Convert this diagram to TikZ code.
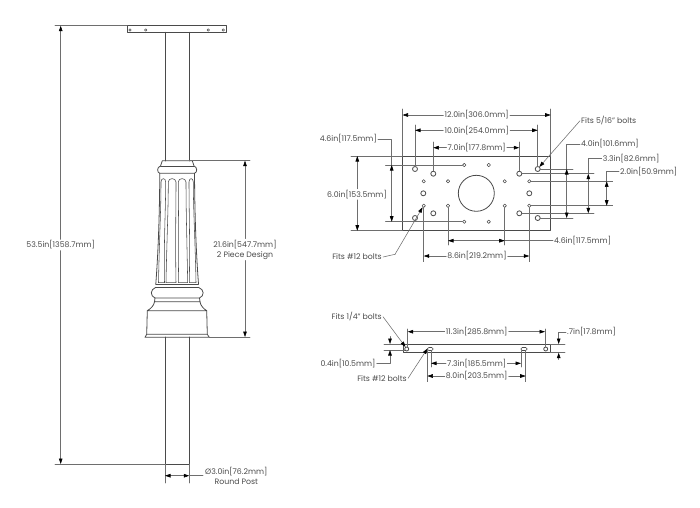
\documentclass[tikz,border=0pt]{standalone}
\usepackage{fontspec}
\setmainfont{Poppins}
\usetikzlibrary{arrows.meta}
\definecolor{inkgray}{HTML}{4A4A4A}
\definecolor{dimgray}{HTML}{6E6E6E}
\tikzset{
	part/.style={draw=inkgray,line width=0.8pt},
	thinpart/.style={draw=inkgray,line width=0.55pt},
	extline/.style={draw=dimgray,line width=0.55pt},
	dimline/.style={draw=dimgray,line width=0.55pt,-{Stealth[length=5.5pt,width=3.6pt,inset=0pt,black]}},
	dimtext/.style={font=\fontsize{7.8}{10}\selectfont,text=inkgray,inner sep=1pt,align=center},
}
\begin{document}
\begin{tikzpicture}[x=1pt,y=-1pt,line join=round,line cap=round]
	\useasboundingbox (0,0) rectangle (700,507);
	% post and top plate
	\draw[part] (127.3,25.7) rectangle (226.7,32.3);
	\foreach \x in {130,145.7,208.3,223.3}
	\draw[thinpart] (\x,30) circle (1.3);
	\draw[part] (165,32.3)--(165,161) (189.3,32.3)--(189.3,161);
	\draw[part] (165,337)--(165,464)--(189.3,464)--(189.3,337);
	% collar
	\draw[part] (162.3,160.7)--(192.3,160.7)--(194,166) .. controls (197.5,167) and (197.5,172.5) .. (194.5,173.3)
		--(159.8,173.3) .. controls (156.8,172.5) and (156.8,167) .. (160.5,166)--cycle;
	\draw[thinpart] (160.5,166)--(194,166);
	\draw[part] (159.8,173.3) .. controls (159.5,220) and (158,255) .. (155.8,284);
	\draw[part] (194.5,173.3) .. controls (194.8,220) and (196.3,255) .. (198.5,284);
	% flutes
	\foreach \a/\b/\c/\d in {161/165.7/158.5/164.5,168.3/176/166/176,178.3/186/178.3/187.7,189/193.3/189.3/196}
	\draw[thinpart] (\c,282.7) .. controls (\c+0.8,240) and (\a,210) .. (\a,182) .. controls (\a,177.5) and (\b,177.5) .. (\b,182)
		.. controls (\b,210) and (\d-0.8,240) .. (\d,282.7)--cycle;
	% band and base
	\draw[part] (155.8,284)--(198.5,284) (155.8,287.3)--(198.5,287.3);
	\draw[part] (155.8,287.3) .. controls (150,289.5) and (150,296) .. (155,298)--(199.5,298) .. controls (204.5,296) and (204.5,289.5) .. (198.5,287.3);
	\draw[part] (155,298)--(154.5,301.7)--(200,301.7)--(199.5,298);
	\draw[part] (154.5,301.7) .. controls (154,305.5) and (151,308.5) .. (147.3,310.7)--(206.7,310.7)
		.. controls (203.3,308.5) and (200.5,305.5) .. (200,301.7);
	\draw[part] (147.3,310.7)--(146.7,334.3) (206.7,310.7)--(207.3,334.3);
	\draw[part] (146.7,334.3)--(207.3,334.3)--(209.3,337.3)--(145,337.3)--cycle;
	% column dimensions
	\coordinate (coltop) at (60.7,25.7);
	\coordinate (colbot) at (60.7,464);
	\coordinate (collartop) at (245,160.7);
	\coordinate (collarbot) at (245,337);
	\coordinate (postl) at (165,475.7);
	\coordinate (postr) at (189.3,475.7);
	\coordinate (postmid) at (177,475.7);
	\draw[extline] (55,25.7)--(127.3,25.7) (55,464)--(165,464);
	\draw[extline] (189.3,160.7)--(250,160.7) (209.3,337)--(250,337);
	\draw[extline] (165,464)--(165,483) (189.3,464)--(189.3,483);
	\node[dimtext] (colheight) at (60.7,245) {53.5in[1358.7mm]};
	\draw[dimline] (colheight.north)--(coltop);
	\draw[dimline] (colheight.south)--(colbot);
	\node[dimtext] (collarheight) at (245,249.5) {21.6in[547.7mm]\\2 Piece Design};
	\draw[dimline] (collarheight.north)--(collartop);
	\draw[dimline] (collarheight.south)--(collarbot);
	\node[dimtext,anchor=north west] (postdia) at (204,466) {Ø3.0in[76.2mm]\\Round Post};
	\draw[dimline] (postmid)--(postl);
	\draw[dimline] (postmid)--(postr);
	\draw[extline] (postr)--(203,475.7);
	% plate, top view
	\draw[part] (402.5,156) rectangle (550.7,230.7);
	\draw[part] (476.3,193.3) circle (18);
	\foreach \x/\y in {415/169,433.3/173.7,519.3/173.7,537.7/169,423.3/193.3,529.3/193.3,433.3/213.3,519.3/213.3,415/218,537.7/218}
	\draw[part] (\x,\y) circle (2.5);
	\foreach \x/\y in {464.3/165,488.7/165,423.7/181.3,448/181.3,504.7/181.3,529.3/181.3,423.7/205.7,448/205.7,504.7/205.7,529.3/205.7,464.3/221.7,488.7/221.7}
	\draw[thinpart] (\x,\y) circle (1.7);
	% extension lines, top view
	\draw[extline] (402.5,109)--(402.5,156) (550.7,109)--(550.7,156);
	\draw[extline] (415,125)--(415,166.5) (537.7,125)--(537.7,166.5);
	\draw[extline] (433.3,142)--(433.3,171) (519.3,142)--(519.3,171);
	\draw[extline] (540.2,169)--(573,169) (540.2,218)--(573,218);
	\draw[extline] (521.8,173.7)--(594,173.7) (521.8,213.3)--(594,213.3);
	\draw[extline] (531,181.3)--(612.7,181.3) (531,205.7)--(612.7,205.7);
	\draw[extline] (448,207.4)--(448,245) (504.7,207.4)--(504.7,245);
	\draw[extline] (423.7,207.4)--(423.7,261.7) (529.3,207.4)--(529.3,261.7);
	\draw[extline] (385.5,165)--(462.6,165) (385.5,221.7)--(462.6,221.7);
	\draw[extline] (351,156)--(402.5,156) (351,230.7)--(402.5,230.7);
	% dimensions, top view
	\node[dimtext] (w12) at (476.7,115) {12.0in[306.0mm]};
	\draw[dimline] (w12.west)--(402.5,115);
	\draw[dimline] (w12.east)--(550.7,115);
	\node[dimtext] (w10) at (476.7,130.3) {10.0in[254.0mm]};
	\draw[dimline] (w10.west)--(415,130.3);
	\draw[dimline] (w10.east)--(537.7,130.3);
	\node[dimtext] (w7) at (476.7,147.7) {7.0in[177.8mm]};
	\draw[dimline] (w7.west)--(433.3,147.7);
	\draw[dimline] (w7.east)--(519.3,147.7);
	\node[dimtext,anchor=west] (fitsa) at (580,120.7) {Fits 5/16" bolts};
	\draw[dimline] (fitsa.west)--(539.3,167);
	\node[dimtext,anchor=west] (h4) at (580,144) {4.0in[101.6mm]};
	\draw[extline] (h4.west)--(566.7,144)--(566.7,169);
	\draw[dimline] (566.7,180)--(566.7,169);
	\draw[dimline] (566.7,180)--(566.7,218);
	\node[dimtext,anchor=west] (h3) at (601.7,158.3) {3.3in[82.6mm]};
	\draw[extline] (h3.west)--(588.3,158.3)--(588.3,173.7);
	\draw[dimline] (588.3,185)--(588.3,173.7);
	\draw[dimline] (588.3,185)--(588.3,213.3);
	\node[dimtext,anchor=west] (h2) at (619,171.7) {2.0in[50.9mm]};
	\draw[extline] (h2.west)--(606.7,171.7)--(606.7,181.3);
	\draw[dimline] (606.7,193)--(606.7,181.3);
	\draw[dimline] (606.7,193)--(606.7,205.7);
	\node[dimtext,anchor=west] (w46) at (553,240.7) {4.6in[117.5mm]};
	\draw[dimline] (w46.west)--(448,240.7);
	\draw[dimline] (460,240.7)--(504.7,240.7);
	\node[dimtext] (w86) at (477,256) {8.6in[219.2mm]};
	\draw[dimline] (w86.west)--(423.7,256);
	\draw[dimline] (w86.east)--(529.3,256);
	\node[dimtext,anchor=east] (h46) at (378,139) {4.6in[117.5mm]};
	\draw[extline] (h46.east)--(391.7,139)--(391.7,165);
	\draw[dimline] (391.7,180)--(391.7,165);
	\draw[dimline] (391.7,180)--(391.7,221.7);
	\node[dimtext] (h6) at (357,194.3) {6.0in[153.5mm]};
	\draw[dimline] (h6.north-|357.3,0)--(357.3,156);
	\draw[dimline] (h6.south-|357.3,0)--(357.3,230.7);
	\node[dimtext,anchor=east] (fitsb) at (383,257) {Fits \#12 bolts};
	\draw[extline] (fitsb.east)--(395,254.3);
	\draw[dimline] (395,254.3)--(422.6,207.3);
	% plate, side view
	\draw[part] (403.3,344)--(550,344)--(550,352.7)--(403.3,352.7)--cycle;
	\foreach \x in {406.7,545.7}
	\draw[part] (\x,349) circle (2);
	\draw[thinpart,rounded corners=1.5pt] (427.3,347.5) rectangle (433.3,350.5);
	\draw[thinpart,rounded corners=1.5pt] (520.7,347.5) rectangle (527.3,350.5);
	% extension lines, side view
	\draw[extline] (384,344)--(403.3,344) (384,350)--(404.7,350);
	\draw[extline] (550,344)--(565,344) (550,352.7)--(565,352.7);
	\draw[extline] (407.7,329)--(407.7,347) (545,329)--(545,347);
	\draw[extline] (431,350.5)--(431,367) (521,350.5)--(521,367);
	\draw[extline] (427.3,350.5)--(427.3,381.7) (525.7,350.5)--(525.7,381.7);
	% dimensions, side view
	\node[dimtext] (sw11) at (476.7,331.7) {11.3in[285.8mm]};
	\draw[dimline] (sw11.west)--(407.7,331.7);
	\draw[dimline] (sw11.east)--(545,331.7);
	\node[dimtext,anchor=west] (st7) at (566,332) {.7in[17.8mm]};
	\draw[extline] (st7.west)--(558.7,332)--(558.7,337);
	\draw[dimline] (558.7,337)--(558.7,344);
	\coordinate (stlow) at (558.7,359.5);
	\draw[dimline] (stlow)--(558.7,352.7);
	\node[dimtext,anchor=east] (st4) at (376.7,363.3) {0.4in[10.5mm]};
	\draw[dimline] (390,336.5)--(390,344);
	\draw[extline] (st4.east)--(390,363.3)--(390,356);
	\draw[dimline] (390,356)--(390,350);
	\node[dimtext,anchor=east] (fitsc) at (383,316.7) {Fits 1/4" bolts};
	\draw[dimline] (fitsc.east)--(405.5,347);
	\node[dimtext,anchor=east] (fitsd) at (408,378.3) {Fits \#12 bolts};
	\draw[dimline] (fitsd.east)--(427.5,348.5);
	\node[dimtext] (sw7) at (476.7,363.3) {7.3in[185.5mm]};
	\draw[dimline] (sw7.west)--(431,363.3);
	\draw[dimline] (sw7.east)--(521,363.3);
	\node[dimtext] (sw8) at (476.7,376) {8.0in[203.5mm]};
	\draw[dimline] (sw8.west)--(427.3,376);
	\draw[dimline] (sw8.east)--(525.7,376);
\end{tikzpicture}
\end{document}
